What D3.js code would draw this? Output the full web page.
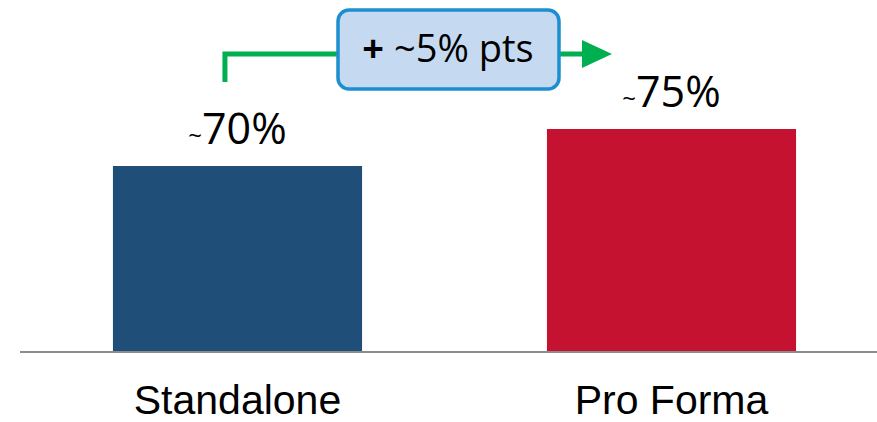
<!DOCTYPE html>
<html>
<head>
<meta charset="utf-8">
<script src="https://cdn.jsdelivr.net/npm/d3@7"></script>
<style>
  body { margin: 0; background: #fff; }
  svg { display: block; }
</style>
</head>
<body>
<div id="chart"></div>
<script>
// data
var categories = ['Standalone', 'Pro Forma'];
var values = [70, 75];
var valueLabels = ['70%', '75%'];
var colors = ['#1f4e79', '#c41230'];
var deltaLabel = '~5% pts';

var svgWidth = 877;
var svgHeight = 422;

var svg = d3.select('#chart')
  .append('svg')
  .attr('width', svgWidth)
  .attr('height', svgHeight);

// bars sit 434px apart, 249px wide
var xScale = d3.scaleBand()
  .domain(categories)
  .range([20.5, 888.5])
  .paddingInner(0.426)
  .paddingOuter(0.213);

// the axis does not start at zero on the original
var yScale = d3.scaleLinear()
  .domain([45, 75])
  .range([351, 129]);

// bars
svg.selectAll('rect.bar')
  .data(values)
  .enter()
  .append('rect')
  .attr('class', 'bar')
  .attr('x', (d, i) => xScale(categories[i]))
  .attr('y', d => yScale(d))
  .attr('width', xScale.bandwidth())
  .attr('height', d => yScale(45) - yScale(d))
  .attr('fill', (d, i) => colors[i]);

// baseline
svg.append('line')
  .attr('x1', 20).attr('x2', 877)
  .attr('y1', 352).attr('y2', 352)
  .attr('stroke', '#8c8c8c')
  .attr('stroke-width', 2);

// category labels
svg.selectAll('text.cat')
  .data(categories)
  .enter()
  .append('text')
  .attr('class', 'cat')
  .attr('x', d => xScale(d) + xScale.bandwidth() / 2)
  .attr('y', 414)
  .attr('text-anchor', 'middle')
  .style('font-family', '"Liberation Sans", Arial, sans-serif')
  .style('font-size', '41px')
  .attr('fill', '#000')
  .text(d => d);

// value labels with small tilde
var vl = svg.selectAll('text.val')
  .data(values)
  .enter()
  .append('text')
  .attr('class', 'val')
  .attr('x', (d, i) => xScale(categories[i]) + xScale.bandwidth() / 2)
  .attr('y', d => yScale(d) - 22)
  .attr('text-anchor', 'middle')
  .style('font-family', '"Open Sans", "Noto Sans", sans-serif')
  .attr('fill', '#000');
vl.append('tspan').style('font-size', '24px').text('~');
vl.append('tspan').style('font-size', '43px').text((d, i) => valueLabels[i]);

// change annotation: green elbow arrow
var startX = xScale(categories[0]) + 112;
var lineY = 54;
var green = '#00b050';

svg.append('path')
  .attr('d', `M${startX},82 V${lineY} H585`)
  .attr('fill', 'none')
  .attr('stroke', green)
  .attr('stroke-width', 5);

svg.append('path')
  .attr('d', `M582,${lineY - 14} L612,${lineY} L582,${lineY + 14} Z`)
  .attr('fill', green);

svg.append('rect')
  .attr('x', 338).attr('y', 10)
  .attr('width', 221).attr('height', 79)
  .attr('rx', 11).attr('ry', 11)
  .attr('fill', '#c5daf0')
  .attr('stroke', '#1c8fd1')
  .attr('stroke-width', 3.5);

var dl = svg.append('text')
  .attr('x', 448)
  .attr('y', 62)
  .attr('text-anchor', 'middle')
  .style('font-family', '"Open Sans", "Noto Sans", sans-serif')
  .style('font-size', '38px')
  .attr('fill', '#000');
dl.append('tspan').style('font-weight', 'bold').text('+ ');
dl.append('tspan').text(deltaLabel);
</script>
</body>
</html>
